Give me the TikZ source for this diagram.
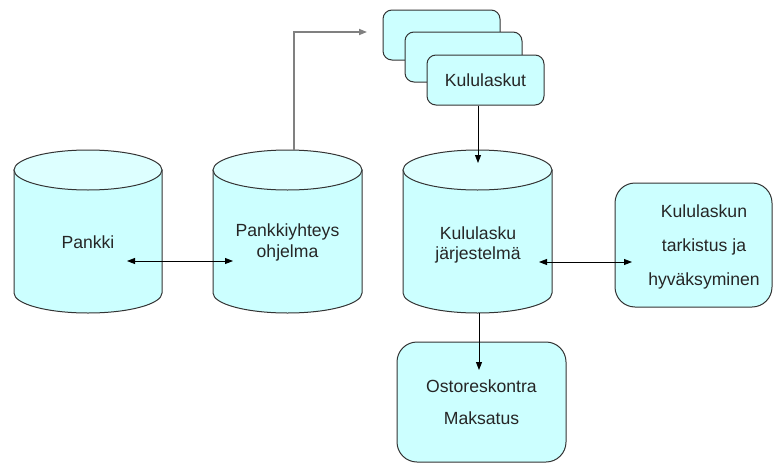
\documentclass[tikz,border=0pt]{standalone}
\usepackage{fontspec}
\setmainfont{Liberation Sans}
\usetikzlibrary{arrows.meta,calc}
\definecolor{bodyfill}{HTML}{CCFFFF}
\definecolor{topfill}{HTML}{DDFFFF}
\definecolor{edgegray}{HTML}{333333}
\definecolor{linkgray}{HTML}{808080}

% database drum: left x, right x, top-ellipse centre y, bottom-ellipse centre y
\newcommand\dbdrum[4]{%
  \filldraw[fill=bodyfill, draw=edgegray, line width=1pt]
    (#1,#3) -- (#1,#4)
    arc[start angle=180, end angle=0, x radius={(#2-#1)/2}, y radius=20]
    -- (#2,#3) -- cycle;
  \filldraw[fill=topfill, draw=edgegray, line width=1pt]
    ({(#1+#2)/2},#3) ellipse[x radius={(#2-#1)/2}, y radius=20];
}

\begin{document}
\begin{tikzpicture}[x=1pt, y=-1pt,
  font=\fontsize{17.6}{20.5}\selectfont,
  label/.style={align=center, inner sep=0pt, text=black!85},
  card/.style={draw=edgegray, fill=bodyfill, line width=1pt,
    rounded corners=9pt, minimum width=117pt, minimum height=50pt, inner sep=0pt},
  panel/.style={draw=edgegray, fill=bodyfill, line width=1pt,
    rounded corners=20pt, inner sep=0pt},
  link/.style={line width=0.9pt, black},
  tip/.style={-{Triangle[length=8pt, width=6pt]}},
  dtip/.style={{Triangle[length=8pt, width=6pt]}-{Triangle[length=8pt, width=6pt]}}
]
\useasboundingbox (0,0) rectangle (773,463);

% stacked expense-claim cards
\node[card] (card1) at (441.5,35) {};
\node[card] (card2) at (463.5,57) {};
\node[card] (card3) at (485.5,80) {};
\node[label] (kululaskut) at (card3.center) {Kululaskut};

% databases
\dbdrum{14}{162}{170}{293}
\dbdrum{213}{362}{170}{293}
\dbdrum{403}{552}{170}{293}
\node[label] (pankki) at (88,242) {Pankki};
\node[label] (yhteys) at (287.5,242.5) {Pankkiyhteys\\ohjelma};
\node[label] (jarjestelma) at (478,245) {Kululasku\\järjestelmä};

% approval and payment
\node[panel, minimum width=157pt, minimum height=124pt] (tarkistus) at (693.5,245) {};
\node[label, font=\fontsize{17.6}{34}\selectfont] (tarkistusteksti) at (704,246.5)
  {Kululaskun\\tarkistus ja\\hyväksyminen};
\node[panel, minimum width=169pt, minimum height=120pt, label,
  font=\fontsize{17.6}{32}\selectfont, draw=edgegray, fill=bodyfill] (ostoreskontra) at (481.5,402)
  {Ostoreskontra\\Maksatus};

% connector end points
\coordinate (pankkiR) at (127,261);
\coordinate (yhteysL) at (233,261);
\coordinate (jarjR) at (539,262);
\coordinate (tarkL) at (632,262);
\coordinate (drumTop) at (478,163);
\coordinate (drumBottom) at (479,313);
\coordinate (ostoIn) at (479,370);
\coordinate (yhteysTop) at (294,150);
\coordinate (bend) at (294,32);
\coordinate (cardsIn) at (367,32);

% connectors
\draw[link, dtip] (pankkiR) -- (yhteysL);
\draw[link, dtip] (jarjR) -- (tarkL);
\draw[link, tip] (card3.south -| drumTop) -- (drumTop);
\draw[link, tip] (drumBottom) -- (ostoIn);
\draw[line width=1.6pt, linkgray, tip] (yhteysTop) -- (bend) -- (cardsIn);
\end{tikzpicture}
\end{document}
